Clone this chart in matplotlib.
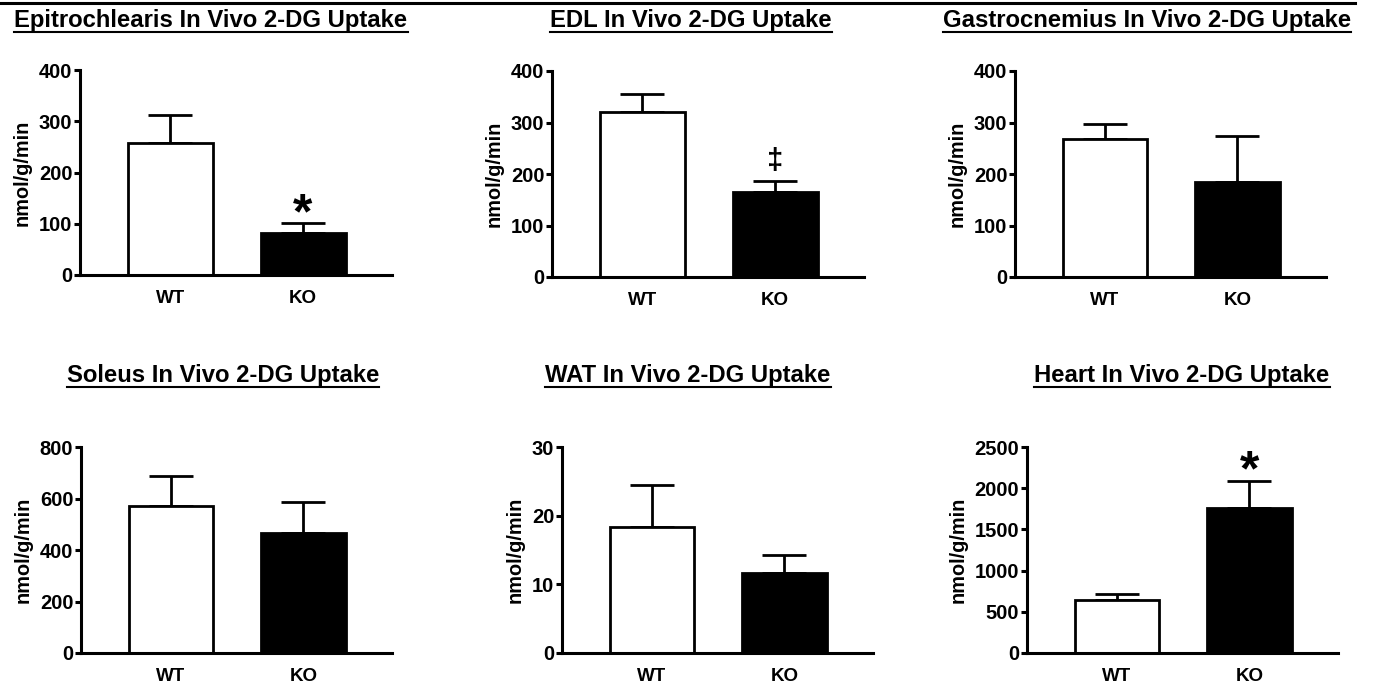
import matplotlib
matplotlib.use("Agg")
import matplotlib.pyplot as plt
from matplotlib.lines import Line2D

plt.rcParams['font.family'] = ['Liberation Sans', 'DejaVu Sans']
plt.rcParams['font.weight'] = 'bold'

# data
groups = ['WT', 'KO']
titles = ['Epitrochlearis In Vivo 2-DG Uptake', 'EDL In Vivo 2-DG Uptake',
          'Gastrocnemius In Vivo 2-DG Uptake', 'Soleus In Vivo 2-DG Uptake',
          'WAT In Vivo 2-DG Uptake', 'Heart In Vivo 2-DG Uptake']
means = [[257, 82], [320, 165], [267, 185], [572, 465], [18.4, 11.6], [640, 1760]]
sems = [[56, 20], [35, 22], [31, 88], [116, 123], [6.1, 2.6], [80, 325]]
ymax = [400, 400, 400, 800, 30, 2500]
ystep = [100, 100, 100, 200, 10, 500]
marks = ['*', '\u2021', '', '', '', '*']

W, H = 1373, 686
# axes boxes in pixels: left, right, top, bottom
boxes = [(80, 392, 70, 275), (552, 864, 71, 277), (1015, 1326, 71, 277),
         (81, 392, 447, 653), (562, 873, 447, 653), (1027, 1338, 447, 653)]
title_x = [211, 691, 1147, 223, 688, 1182]
title_y = [27, 27, 27, 382, 382, 382]
mark_off = [-4, 8.5, 0, 0, 0, -3]

fig = plt.figure(figsize=(W / 100, H / 100), dpi=100)
fig.add_artist(Line2D([0, 1355 / W], [1 - 3 / H, 1 - 3 / H], color='black', lw=2.2))

title_texts = []
for i in range(6):
    x0, x1, yt, yb = boxes[i]
    ax = fig.add_axes([x0 / W, 1 - yb / H, (x1 - x0) / W, (yb - yt) / H])
    pos = [0, 1]
    ax.bar(pos, means[i], width=0.64, color=['white', 'black'], edgecolor='black',
           linewidth=2, zorder=2)
    ax.errorbar(pos, means[i], yerr=[[0, 0], sems[i]], fmt='none', ecolor='black',
                elinewidth=2, capsize=15.5, capthick=2, zorder=1)
    if marks[i]:
        top = means[i][1] + sems[i][1]
        ax.annotate(marks[i], (1, top), xytext=(0, mark_off[i]), textcoords='offset points',
                    ha='center', va='baseline', fontsize=36 if marks[i] == '*' else 21,
                    fontweight='bold', annotation_clip=False)
    ax.set_xlim(-0.68, 1.67)
    ax.set_ylim(0, ymax[i])
    ax.set_yticks(range(0, int(ymax[i]) + 1, ystep[i]))
    ax.set_xticks(pos)
    ax.set_xticklabels(groups)
    ax.spines['top'].set_visible(False)
    ax.spines['right'].set_visible(False)
    ax.spines['left'].set_linewidth(2.2)
    ax.spines['bottom'].set_linewidth(2.2)
    ax.tick_params(axis='y', direction='out', length=4, width=2.2, pad=1.5, labelsize=14.5)
    ax.tick_params(axis='x', length=0, pad=11, labelsize=13.5)
    ax.set_ylabel('nmol/g/min', fontsize=14.3, fontweight='bold', labelpad=5)
    t = fig.text(title_x[i] / W, 1 - title_y[i] / H, titles[i], ha='center', va='baseline',
                 fontsize=17.2, fontweight='bold')
    title_texts.append(t)

# underline the titles
renderer = fig.canvas.get_renderer()
for i, t in enumerate(title_texts):
    bb = t.get_window_extent(renderer)
    yl = 1 - (title_y[i] + 5) / H
    fig.add_artist(Line2D([bb.x0 / W, bb.x1 / W], [yl, yl], color='black', lw=1.5))

fig.savefig('out.png', dpi=100)
